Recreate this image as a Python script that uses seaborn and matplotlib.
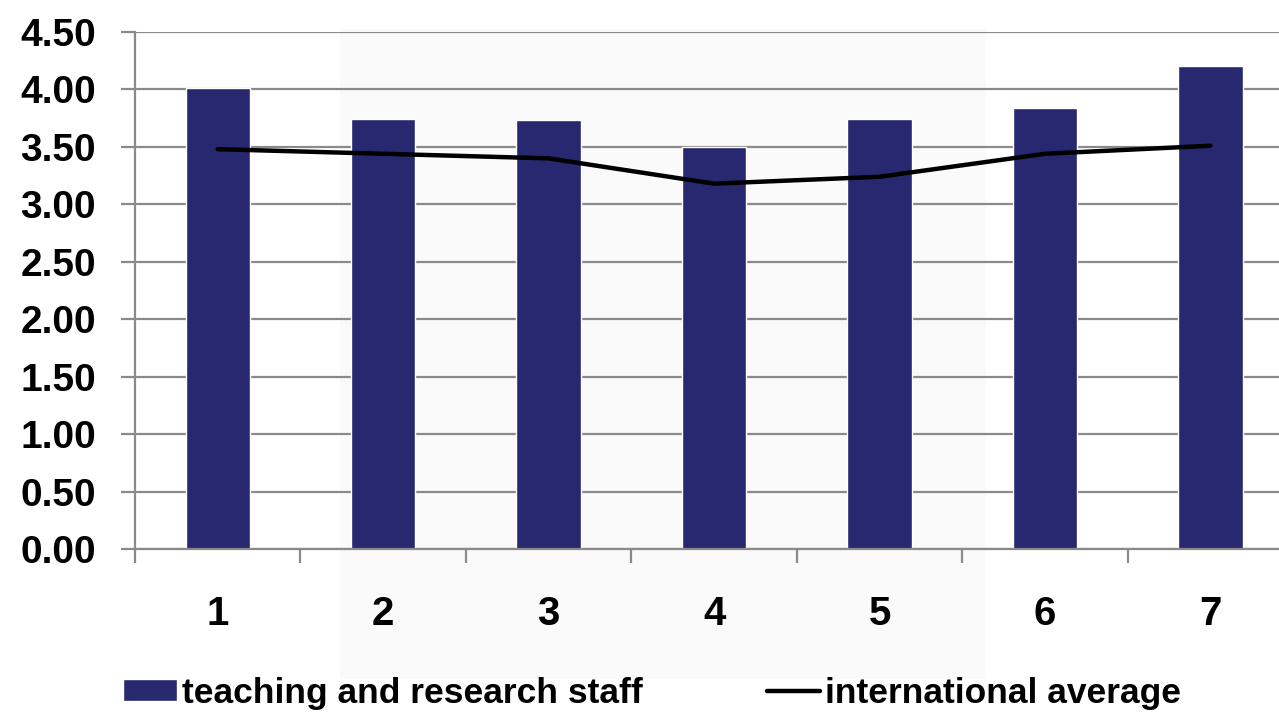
"""Bar chart of staff scores against the international average."""

import matplotlib
import matplotlib.pyplot as plt
import numpy as np
import pandas as pd
import seaborn as sns
from matplotlib.patches import Rectangle

matplotlib.use("Agg")

CATEGORIES = ["1", "2", "3", "4", "5", "6", "7"]
STAFF_SCORES = [4.01, 3.74, 3.73, 3.50, 3.74, 3.84, 4.20]
INTERNATIONAL_AVERAGE = [3.48, 3.44, 3.40, 3.18, 3.24, 3.44, 3.51]
Y_TICKS = [0.0, 0.5, 1.0, 1.5, 2.0, 2.5, 3.0, 3.5, 4.0, 4.5]

BAR_COLOR = "#27286f"
GRID_COLOR = "#8a8a8a"

sns.set_theme(style="white")
plt.rcParams["font.family"] = ["Liberation Sans", "DejaVu Sans"]
plt.rcParams["font.weight"] = "bold"
plt.rcParams["text.color"] = "black"
plt.rcParams["xtick.color"] = "black"
plt.rcParams["ytick.color"] = "black"

data = pd.DataFrame(
    {
        "category": CATEGORIES,
        "staff": STAFF_SCORES,
        "average": INTERNATIONAL_AVERAGE,
    }
)

fig = plt.figure(figsize=(12.79, 7.19), dpi=100)
# faint backdrop panel seen behind the plot
fig.add_artist(
    Rectangle((0.266, 0.055), 0.505, 0.905, transform=fig.transFigure,
              facecolor="#fafafa", edgecolor="none", zorder=-5)
)
ax = fig.add_axes([0.1056, 0.2364, 0.9054, 0.7191])
ax.patch.set_alpha(0)

sns.barplot(
    data=data,
    x="category",
    y="staff",
    order=CATEGORIES,
    color=BAR_COLOR,
    saturation=1,
    width=0.39,
    label="teaching and research staff",
    ax=ax,
    zorder=2,
)
sns.lineplot(
    x=data.index,
    y=data["average"],
    color="black",
    linewidth=3.2,
    label="international average",
    ax=ax,
    zorder=3,
)

ax.set_xlim(-0.5, len(CATEGORIES) - 0.5)
ax.set_ylim(0, 4.5)
ax.set_yticks(Y_TICKS)
ax.set_yticklabels([f"{v:.2f}" for v in Y_TICKS], fontsize=28, fontweight="bold")
ax.yaxis.grid(True, color=GRID_COLOR, linewidth=1.6)
ax.set_axisbelow(True)

ax.set_xticks(np.arange(len(CATEGORIES)))
ax.set_xticklabels(CATEGORIES, fontsize=29, fontweight="bold")
ax.set_xticks(np.arange(len(CATEGORIES) + 1) - 0.5, minor=True)
ax.tick_params(axis="x", which="major", length=0, pad=33)
ax.tick_params(axis="x", which="minor", length=10, width=1.6,
               color=GRID_COLOR, direction="out", bottom=True)
ax.tick_params(axis="y", length=10, width=1.6, color=GRID_COLOR,
               direction="out", left=True, pad=18)

for side in ("top", "right"):
    ax.spines[side].set_visible(False)
for side in ("left", "bottom"):
    ax.spines[side].set_color(GRID_COLOR)
    ax.spines[side].set_linewidth(1.6)

ax.set_xlabel("")
ax.set_ylabel("")

handles, labels = ax.get_legend_handles_labels()
order = [labels.index("teaching and research staff"), labels.index("international average")]
ax.get_legend().remove()
fig.legend(
    [handles[i] for i in order],
    [labels[i] for i in order],
    loc="center",
    bbox_to_anchor=(0.51, 0.036),
    ncol=2,
    frameon=False,
    prop={"size": 25.5, "weight": "bold"},
    handlelength=1.5,
    handleheight=0.6,
    handletextpad=0.15,
    columnspacing=3.5,
)

fig.savefig("out.png", dpi=100)
plt.close(fig)
